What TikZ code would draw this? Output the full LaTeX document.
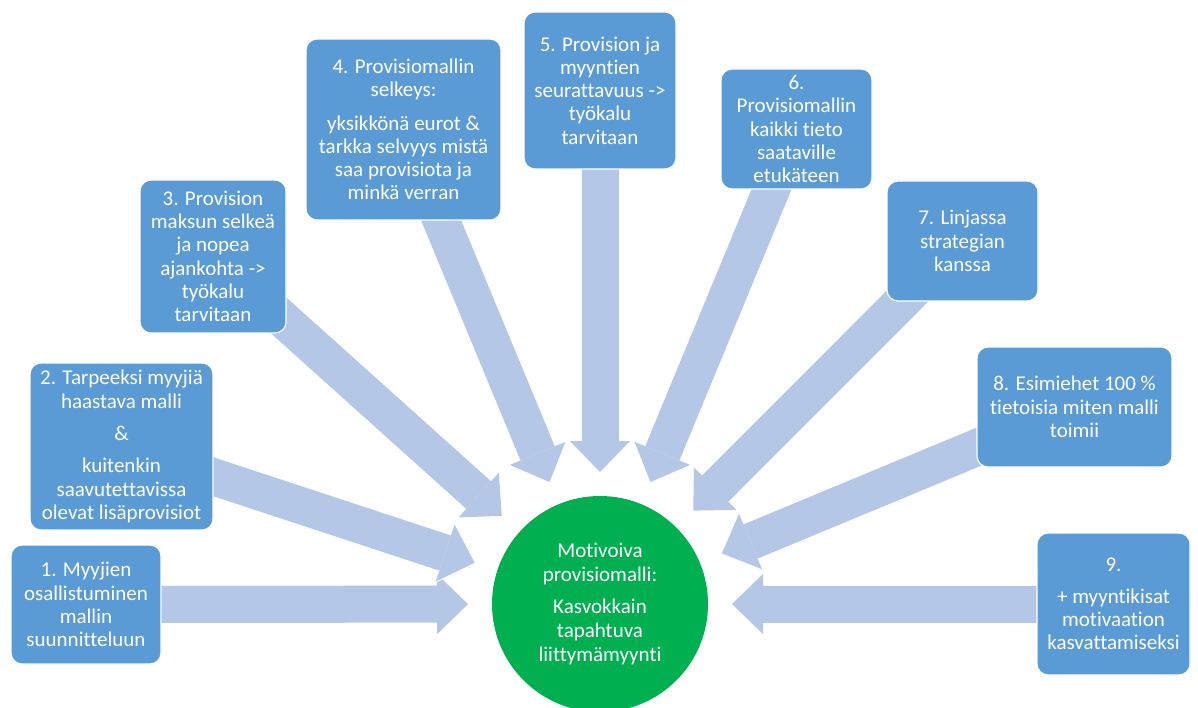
\documentclass[tikz,border=0pt]{standalone}
\usepackage{fontspec}
\setmainfont{Carlito}[Ligatures={TeX,NoCommon}]
\usetikzlibrary{arrows.meta}
\definecolor{boxblue}{HTML}{5B9BD5}
\definecolor{flowblue}{HTML}{B4C7E7}
\definecolor{hubgreen}{HTML}{00B050}

\begin{document}
\begin{tikzpicture}[x=1pt,y=-1pt,
  item/.style={draw=white, line width=1.2pt, fill=boxblue, rounded corners=11pt,
    text=white, align=center, inner sep=0pt,
    font=\fontsize{21}{23.3}\selectfont},
  hub/.style={circle, fill=hubgreen, minimum size=216pt, inner sep=0pt,
    text=white, align=center, font=\fontsize{21}{24}\selectfont},
  flowedge/.style={draw=white, line width=40pt,
    -{Triangle[width=64pt,length=33pt,line width=0pt]}, shorten >=130.5pt},
  flow/.style={draw=flowblue, line width=37pt,
    -{Triangle[width=60pt,length=31pt,line width=0pt]}, shorten >=132pt},
]
\useasboundingbox (0,0) rectangle (1198,708);

% hub position and item positions
\coordinate (hc) at (600,604);
\coordinate (p1) at (86,604.5);
\coordinate (p2) at (121.5,446.5);
\coordinate (p3) at (213,256.5);
\coordinate (p4) at (403.5,129.5);
\coordinate (p5) at (600,90.5);
\coordinate (p6) at (796.5,129);
\coordinate (p7) at (962.5,241);
\coordinate (p8) at (1074.5,407);
\coordinate (p9) at (1113.5,604);

% converging block arrows, each outlined in white
\foreach \i in {1,...,9}{
  \draw[flowedge] (p\i) -- (hc);
  \draw[flow] (p\i) -- (hc);
}

% items
\node[item, minimum width=150pt, minimum height=119pt] (b1) at (p1)
  {1. Myyjien\\osallistuminen\\mallin\\suunnitteluun};
\node[item, minimum width=183pt, minimum height=167pt] (b2) at (p2)
  {2. Tarpeeksi myyjiä\\haastava malli\\[9pt]\&\\[9pt]kuitenkin\\saavutettavissa\\olevat lisäprovisiot};
\node[item, minimum width=146pt, minimum height=153pt] (b3) at (p3)
  {3. Provision\\maksun selkeä\\ja nopea\\ajankohta ->\\työkalu\\tarvitaan};
\node[item, minimum width=195pt, minimum height=181pt] (b4) at (p4)
  {4. Provisiomallin\\selkeys:\\[10pt]yksikkönä eurot \&\\tarkka selvyys mistä\\saa provisiota ja\\minkä verran};
\node[item, minimum width=152pt, minimum height=157pt] (b5) at (p5)
  {5. Provision ja\\myyntien\\seurattavuus ->\\työkalu\\tarvitaan};
\node[item, minimum width=151pt, minimum height=120pt] (b6) at (p6)
  {6.\\Provisiomallin\\kaikki tieto\\saataville\\etukäteen};
\node[item, minimum width=151pt, minimum height=120pt] (b7) at (p7)
  {7. Linjassa\\strategian\\kanssa};
\node[item, minimum width=195pt, minimum height=120pt] (b8) at (p8)
  {8. Esimiehet 100 \%\\tietoisia miten malli\\toimii};
\node[item, minimum width=153pt, minimum height=142pt] (b9) at (p9)
  {9.\\[8pt]+ myyntikisat\\motivaation\\kasvattamiseksi};

% hub
\node[hub] (c) at (hc)
  {Motivoiva\\provisiomalli:\\[8pt]Kasvokkain\\tapahtuva\\liittymämyynti};
\end{tikzpicture}
\end{document}
